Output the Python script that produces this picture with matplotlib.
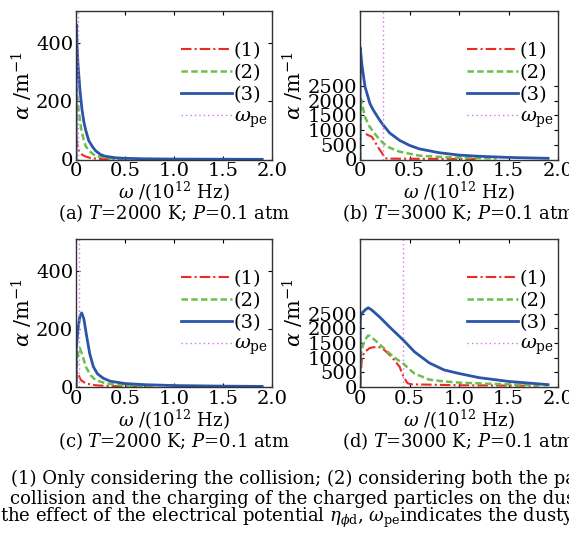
import numpy as np
import matplotlib
matplotlib.use("Agg")
import matplotlib.pyplot as plt

plt.rcParams['font.family'] = ['DejaVu Serif']
plt.rcParams['mathtext.fontset'] = 'dejavuserif'

# frequency in 10^12 Hz, alpha in m^-1
# (a) T=2000 K, P=0.1 atm
xa_1 = [0.0, 0.01, 0.03, 0.06, 0.1, 0.15, 0.2, 0.3, 0.45]
ya_1 = [80, 55, 30, 17, 10, 5, 3, 1, 0.5]
xa_2 = [0.0, 0.005, 0.02, 0.05, 0.08, 0.1, 0.15, 0.2, 0.3, 0.4, 0.5]
ya_2 = [0, 245, 190, 110, 65, 45, 25, 12, 6, 3, 1]
xa_3 = [0.0, 0.003, 0.01, 0.02, 0.04, 0.06, 0.08, 0.1, 0.13, 0.17, 0.2, 0.25, 0.3, 0.4, 0.5, 0.7, 1.0, 1.5, 1.9]
ya_3 = [0, 465, 400, 330, 240, 175, 130, 100, 65, 43, 30, 17, 11, 6, 4, 2.5, 1.5, 1, 0.5]
wpe_a = 0.023

# (b) T=3000 K, P=0.1 atm
xb_1 = [0.06, 0.08, 0.12, 0.17, 0.2, 0.235, 0.25, 0.3, 0.5, 0.8, 1.0, 1.2]
yb_1 = [870, 830, 770, 490, 330, 150, 40, 30, 25, 22, 20, 15]
xb_2 = [0.0, 0.003, 0.01, 0.05, 0.09, 0.134, 0.18, 0.235, 0.3, 0.4, 0.6, 0.8, 1.0, 1.2, 1.38]
yb_2 = [0, 500, 2050, 1450, 1150, 945, 750, 550, 400, 265, 130, 90, 60, 45, 35]
xb_3 = [0.0, 0.002, 0.02, 0.05, 0.1, 0.134, 0.2, 0.235, 0.3, 0.4, 0.5, 0.6, 0.8, 1.0, 1.2, 1.5, 1.9]
yb_3 = [0, 3800, 3200, 2480, 1900, 1680, 1330, 1170, 900, 650, 480, 360, 230, 150, 110, 70, 40]
wpe_b = 0.235

# (c) T=2000 K, P=0.1 atm
xc_1 = [0.0, 0.01, 0.03, 0.05, 0.1, 0.2, 0.3, 0.5, 0.75]
yc_1 = [0, 52, 38, 24, 12, 6, 4, 2, 1]
xc_2 = [0.0, 0.005, 0.02, 0.04, 0.07, 0.1, 0.15, 0.2, 0.3, 0.4, 0.6, 0.8]
yc_2 = [0, 60, 115, 134, 105, 70, 40, 24, 13, 8, 4, 2]
xc_3 = [0.0, 0.003, 0.02, 0.04, 0.058, 0.08, 0.109, 0.14, 0.177, 0.22, 0.28, 0.35, 0.5, 0.7, 1.0, 1.5, 1.9]
yc_3 = [0, 130, 200, 245, 256, 235, 175, 115, 70, 45, 30, 20, 12, 8, 5, 3, 2]
wpe_c = 0.034

# (d) T=3000 K, P=0.1 atm
xd_1 = [0.0, 0.02, 0.05, 0.1, 0.168, 0.2, 0.25, 0.3, 0.35, 0.4, 0.437, 0.48, 0.52, 0.7, 1.0, 1.4, 1.8]
yd_1 = [0, 1030, 1200, 1330, 1370, 1350, 1250, 1090, 900, 690, 360, 130, 90, 80, 60, 50, 45]
xd_2 = [0.0, 0.01, 0.04, 0.08, 0.1, 0.15, 0.2, 0.3, 0.37, 0.437, 0.5, 0.55, 0.7, 0.85, 1.0, 1.3, 1.6, 1.9]
yd_2 = [0, 1140, 1550, 1750, 1740, 1600, 1450, 1140, 950, 800, 600, 460, 250, 190, 150, 110, 80, 60]
xd_3 = [0.0, 0.003, 0.01, 0.03, 0.06, 0.084, 0.12, 0.2, 0.3, 0.437, 0.55, 0.7, 0.85, 1.0, 1.2, 1.5, 1.9]
yd_3 = [0, 2300, 2500, 2550, 2650, 2700, 2620, 2380, 2040, 1600, 1200, 820, 580, 460, 320, 190, 80]
wpe_d = 0.437

labels = ['(1)', '(2)', '(3)', r'$\omega_{\rm pe}$']
captions = [r'(a) $T$=2000 K; $P$=0.1 atm', r'(b) $T$=3000 K; $P$=0.1 atm',
            r'(c) $T$=2000 K; $P$=0.1 atm', r'(d) $T$=3000 K; $P$=0.1 atm']

c_red = '#ee2a24'
c_green = '#6cc04a'
c_blue = '#2a55a8'
c_mag = '#cc77dd'

W, H = 569, 538
fig = plt.figure(figsize=(W / 100, H / 100), dpi=100)


def px_axes(l, r, t, b):
    return fig.add_axes([l / W, 1 - b / H, (r - l) / W, (b - t) / H])


panels = [
    (px_axes(76, 272, 10.5, 159.5), xa_1, ya_1, xa_2, ya_2, xa_3, ya_3, wpe_a, 513, [0, 200, 400]),
    (px_axes(360, 558, 10.5, 159.5), xb_1, yb_1, xb_2, yb_2, xb_3, yb_3, wpe_b, 5060, [0, 500, 1000, 1500, 2000, 2500]),
    (px_axes(76, 272, 238.5, 387), xc_1, yc_1, xc_2, yc_2, xc_3, yc_3, wpe_c, 513, [0, 200, 400]),
    (px_axes(360, 558, 238.5, 387), xd_1, yd_1, xd_2, yd_2, xd_3, yd_3, wpe_d, 5060, [0, 500, 1000, 1500, 2000, 2500]),
]

for i, (ax, x1, y1, x2, y2, x3, y3, wpe, ymax, yt) in enumerate(panels):
    ax.plot(x1, y1, color=c_red, lw=1.5, dashes=[5, 1.5, 1, 1.5], label=labels[0])
    ax.plot(x2, y2, color=c_green, lw=1.8, dashes=[2.6, 1.3], label=labels[1])
    ax.plot(x3, y3, color=c_blue, lw=2.0, label=labels[2])
    ax.axvline(wpe, color=c_mag, lw=1.0, ls=(0, (1, 2.2)), label=labels[3])
    ax.set_xlim(0, 2.0)
    ax.set_ylim(0, ymax)
    ax.set_xticks([0, 0.5, 1.0, 1.5, 2.0])
    ax.set_xticklabels(['0', '0.5', '1.0', '1.5', '2.0'])
    ax.set_yticks(yt)
    ax.tick_params(direction='in', length=3, width=0.8, top=True, right=True,
                   labelsize=14, pad=2)
    for s in ax.spines.values():
        s.set_linewidth(1.0)
        s.set_color('#333333')
    ax.set_xlabel(r'$\omega$ /(10$^{12}$ Hz)', fontsize=13, labelpad=0)
    ax.set_ylabel(r'$\alpha$ /m$^{-1}$', fontsize=15, labelpad=1)
    ax.legend(loc='upper right', bbox_to_anchor=(1.012, 0.835), frameon=False,
              fontsize=14, handlelength=2.6, handletextpad=0.1,
              labelspacing=0.2, borderpad=0.2, borderaxespad=0.15)
    bb = ax.get_position()
    fig.text((bb.x0 + bb.x1) / 2, bb.y0 - 54 / H, captions[i], ha='center',
             va='center', fontsize=13)

cap_lines = [
    '(1) Only considering the collision; (2) considering both the particle',
    'collision and the charging of the charged particles on the dust particles; (3) considering',
    r'the effect of the electrical potential $\eta_{\phi{\rm d}}$, $\omega_{\rm pe}$indicates the dusty plasma frequency',
]
cap_x = [11, 10, 0]
cap_y = [479, 499, 518]
for s, cx, cy in zip(cap_lines, cap_x, cap_y):
    fig.text(cx / W, 1 - cy / H, s, ha='left', va='center', fontsize=13)

fig.savefig('out.png', dpi=100)
